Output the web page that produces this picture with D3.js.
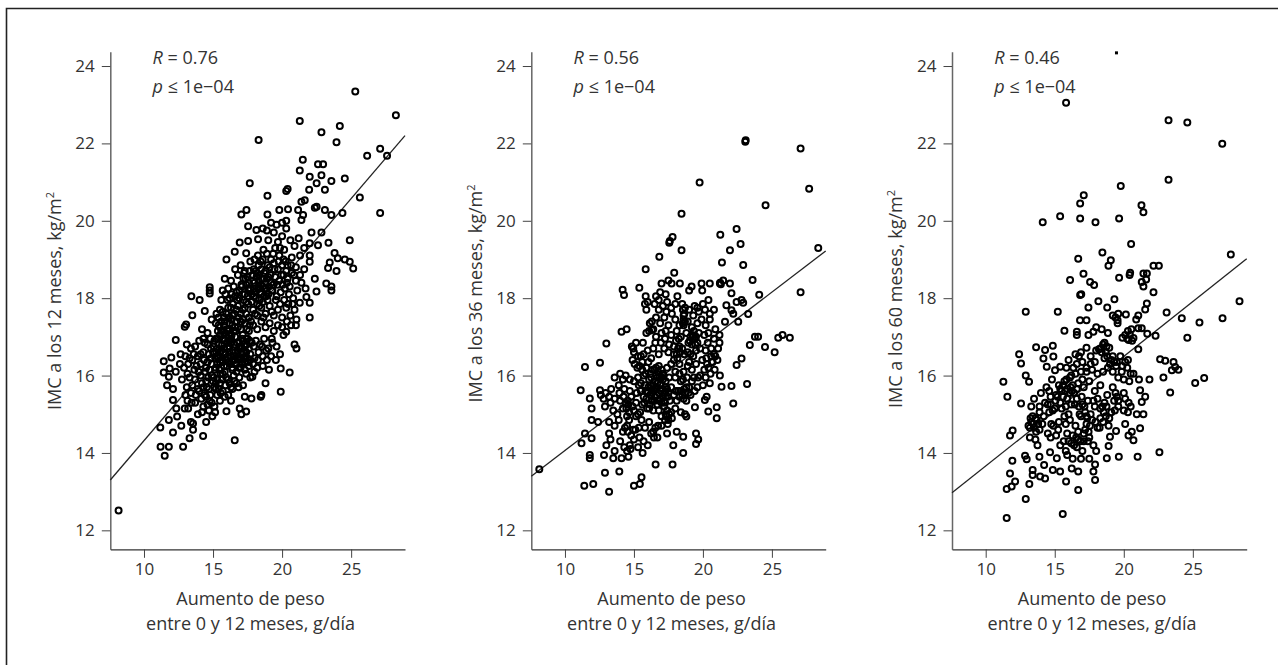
<!DOCTYPE html>
<html><head><meta charset="utf-8">
<script src="https://cdn.jsdelivr.net/npm/d3@7"></script>
<style>html,body{margin:0;padding:0;background:#fff}svg{display:block}text{font-family:"Open Sans",sans-serif;fill:#333}</style>
</head><body><svg id="c" width="1278" height="665"></svg>
<script>
const yTicks=[12,14,16,18,20,22,24];
const xTicks=[10,15,20,25];
const rLabels=["0.76","0.56","0.46"];
const yLabels=["IMC a los 12 meses, kg/m","IMC a los 36 meses, kg/m","IMC a los 60 meses, kg/m"];
const xLabel1="Aumento de peso", xLabel2="entre 0 y 12 meses, g/día";
const fit12=[[7.56,13.3],[28.9,22.2]];
const fit36=[[7.56,13.4],[28.9,19.22]];
const fit60=[[7.56,12.97],[28.9,19.02]];
const outlier60=[[19.47,24.34]];
const pts12=[[25.3,23.34],[28.24,22.73],[21.28,22.58],[18.3,22.09],[22.85,22.29],[24.18,22.45],[23.94,22.03],[26.16,21.68],[27.1,21.86],[27.6,21.68],[21.5,21.58],[21.28,21.3],[22.6,21.46],[22.97,21.46],[22,21.14],[22.85,21.18],[22.5,20.97],[23.57,21.03],[24.54,21.09],[23.1,20.8],[21.96,20.8],[17.66,20.97],[18.94,20.65],[20.3,20.77],[20.4,20.82],[25.63,20.6],[27.1,20.2],[21.64,20.53],[21.4,20.49],[22.37,20.34],[22.5,20.36],[23.1,20.28],[23.57,20.15],[24.37,20.2],[17.42,20.28],[17.05,20.16],[19.8,20.28],[20.43,20.3],[21.16,20.28],[21.52,20.15],[21.4,20.02],[18.94,20.16],[24.9,19.5],[23.36,19.43],[22.85,19.7],[22.13,19.7],[23.8,19.17],[24.03,19.03],[24.54,19],[24.9,18.94],[25.15,18.77],[23.45,18.92],[23.33,18.78],[23.94,18.7],[22.37,18.5],[23.2,18.38],[23.57,18.3],[23.57,18.2],[22.49,18.17],[22,18.94],[22,19.1],[22.6,19.37],[22,19.42],[15.97,19],[15.85,18.5],[14.76,18.2],[14.76,18.12],[16.93,19.44],[17.54,19.48],[16.57,19.2],[17.4,19.16],[18.26,19.52],[18.14,19.76],[17.54,19.86],[16.57,14.33],[14.28,14.44],[13.3,14.38],[12.83,14.16],[11.8,14.16],[11.2,14.16],[11.5,13.93],[12.1,14.53],[12.7,14.7],[11.18,14.66],[13.55,14.76],[13.55,14.6],[13.4,14.8],[14.5,14.8],[11.8,14.85],[12.4,14.94],[8.16,12.51],[15.97,15.08],[17.05,15],[17.4,15.07],[16.93,15.15],[18.5,15.5],[18.45,15.45],[19.9,15.58],[18.8,15.8],[19.9,16.18],[20.55,16.08],[17.85,15.97],[17.17,15.75],[17.78,15.41],[17.3,15.45],[21.04,16.7],[20.9,16.8],[20.3,17.13],[21.04,17.45],[22,17.5],[22,17.88],[21.28,17.88],[21.76,18.03],[13.43,18.05],[14.03,17.95],[14.4,17.67],[13.5,17.56],[12.95,17.26],[13.05,17.32],[12.3,16.92],[11.98,16.47],[11.43,16.37],[11.86,16.18],[11.43,16.08],[11.8,15.97],[11.67,15.75],[12.1,15.65],[12.1,15.37],[12.95,15.15],[12.34,15.15],[13.9,15],
[14.76,18.28],[15.6,17.95],[15.9,18.1],[15.7,18.2],[16.1,18.25],[16.5,18.3],[16.3,18.45],[16.8,18.6],[16.6,18.75],[17.0,18.85],[17.3,18.7],[17.7,18.95],[18.0,19.0],[18.3,18.85],[18.6,19.0],[18.9,19.15],[19.2,19.0],[19.5,19.3],[19.8,19.1],[20.1,19.0],[20.4,18.85],[20.7,19.05],[21.0,18.8],[21.3,19.1],[21.6,19.3],[19.0,19.5],[19.4,19.7],[19.7,19.45],[20.0,19.6],[20.3,19.8],[20.6,19.5],[20.9,19.35],[21.2,19.55],[18.6,19.8],[18.9,19.75],[19.2,19.95],[19.6,19.9],[20.0,19.95],[20.3,20.0],[16.2,18.0],[16.6,18.05],[16.9,18.0],[17.2,17.95],[17.5,18.05],[17.8,18.1],[18.1,18.0],[18.4,18.15],[18.7,18.05],[19.0,18.1],[19.3,18.2],[19.6,18.05],[19.9,18.15],[20.2,18.25],[20.5,18.1],[20.8,18.0],[21.1,18.2],[21.4,18.4],[21.7,18.25],[17.1,18.3],[17.4,18.35],[17.7,18.25],[18.0,18.4],[18.3,18.45],[18.6,18.3],[18.9,18.5],[19.2,18.4],[19.5,18.55],[19.8,18.45],[20.1,18.6],[20.4,18.5],[20.7,18.65],[21.0,18.45],[21.3,18.6],[21.6,18.75],[17.5,18.55],[17.2,18.5],[18.2,18.65],[18.5,18.75],[18.8,18.7],[19.1,18.8],[19.4,18.9],[19.7,18.75],[20.0,18.85],[20.3,18.7],[15.5,17.7],[15.8,17.5],[16.1,17.75],[16.4,17.55],[16.7,17.7],[17.0,17.6],[17.3,17.75],[17.6,17.5],[17.9,17.7],[18.2,17.55],[18.5,17.75],[18.8,17.6],[19.1,17.8],[19.4,17.55],[19.7,17.7],[20.0,17.5],[20.3,17.75],[20.6,17.55],[20.9,17.7],[14.9,17.45],[15.2,17.35],[15.5,17.25],[15.8,17.3],[16.1,17.15],[16.4,17.3],[16.7,17.4],[17.0,17.2],[17.3,17.35],[17.6,17.15],[17.9,17.3],[18.2,17.2],[18.5,17.4],[18.8,17.25],[19.1,17.35],[19.4,17.15],[19.7,17.3],[20.0,17.25],[14.2,17.2],[14.6,17.1],[14.0,16.9],[14.4,16.85],[14.8,16.95],[15.1,16.9],[15.4,16.8],[15.7,16.95],[16.0,16.85],[16.3,16.95],[16.6,17.0],[16.9,16.85],[17.2,16.9],[17.5,16.95],[17.8,16.85],[18.1,16.9],[18.4,16.8],[18.7,16.95],[19.0,16.7],[19.3,16.85],[19.6,16.75],[13.1,16.8],[13.4,16.7],[13.7,16.75],[13.0,16.5],[13.3,16.45],[13.6,16.55],[13.9,16.5],[14.3,16.6],[14.7,16.55],[15.0,16.6],[15.3,16.5],[15.6,16.65],[15.9,16.55],[16.2,16.6],[16.5,16.5],[16.8,16.65],[17.1,16.55],[17.4,16.6],[17.7,16.55],[18.0,16.45],[18.3,16.6],[18.6,16.5],[18.9,16.4],[19.2,16.5],[12.6,16.3],[12.9,16.2],[13.2,16.3],[13.5,16.4],[13.8,16.25],[14.1,16.3],[14.5,16.2],[14.9,16.3],[15.2,16.2],[15.5,16.35],[15.8,16.25],[16.1,16.35],[16.4,16.2],[16.7,16.3],[17.0,16.2],[17.3,16.35],[17.6,16.25],[17.9,16.3],[18.2,16.2],[18.6,16.25],[12.3,16.1],[13.3,15.95],[13.7,15.9],[14.1,16.0],[14.5,15.85],[14.9,16.0],[15.3,15.9],[15.7,16.05],[16.1,15.9],[16.5,16.0],[16.9,15.95],[17.4,16.05],[13.1,15.7],[13.5,15.75],[13.9,15.65],[14.3,15.7],[14.7,15.65],[15.1,15.7],[15.5,15.8],[15.9,15.75],[16.3,15.7],[16.7,15.8],[13.0,15.5],[13.4,15.55],[13.7,15.3],[14.0,15.6],[14.3,15.2],[14.5,15.45],[14.7,15.1],[14.9,15.3],[15.1,15.2],[15.3,15.5],[15.5,15.35],[15.7,15.6],[16.1,15.5],[16.4,15.65],[14.2,15.05],[14.6,15.25],[13.2,15.15],[15.2,16.95],[15.5,17.05],[15.3,16.7],[15.6,16.4],[15.9,17.1],[16.2,16.75],[16.5,17.15],[16.8,17.25],[17.0,16.45],[17.3,16.75],[15.8,16.7],[16.1,16.45],[16.4,16.15],[16.7,16.1],[15.4,17.5],[16.9,18.2],[17.3,18.1],[17.6,18.2],[18.0,18.25],[18.3,18.3],[18.5,18.1],[18.7,18.5],[17.4,17.9],[17.8,17.9],[18.2,17.85],[18.6,17.9]];
const pts12dense=[[15.05,16.75],[15.25,16.6],[15.45,16.15],[15.65,16.8],[15.85,16.1],[15.95,16.4],[16.15,16.9],[16.25,16.3],[16.35,17.05],[16.45,16.65],[16.6,16.4],[16.75,16.85],[16.85,16.2],[17.05,16.7],[17.15,17.05],[17.25,16.45],[17.45,16.8],[17.55,16.35],[15.35,17.15],[15.6,17.4],[15.75,17.15],[15.95,17.6],[16.2,17.35],[16.55,17.6],[16.85,17.5],[17.15,17.45],[17.45,17.2],[17.75,17.4],[15.15,16.15],[15.4,16.45],[14.85,16.7],[14.6,16.35],[14.4,16.1],[14.2,15.8],[14.4,15.5],[14.8,15.5],[15.0,15.85],[15.2,15.65],[14.55,15.7],[14.1,16.55],[14.3,16.95],[14.6,16.8],[16.05,17.95],[16.35,18.1],[16.7,18.15],[17.05,18.35],[17.35,18.5],[17.6,18.4],[17.85,18.6],[18.05,18.15],[18.15,18.55],[18.35,18.6],[18.45,18.35],[18.55,18.5],[18.75,18.25],[18.85,18.05],[19.05,18.3],[19.15,18.6],[19.35,18.35],[19.45,18.75],[19.65,18.35],[19.75,18.95],[19.95,18.6],[20.05,18.35],[20.25,18.95],[20.35,18.4],[20.55,18.3],[20.65,18.85],[20.85,18.6],[20.15,19.25],[19.85,19.3],[19.35,19.15],[18.65,19.25],[18.25,19.1],[17.95,18.75],[17.65,18.7],[17.15,18.1],[16.45,17.85],[16.75,17.95],[18.95,18.85],[19.25,18.2],[18.35,17.95],[17.95,18.05],[17.55,17.85],[18.05,17.6],[18.35,17.8],[18.65,17.5],[18.95,17.95],[19.25,17.65],[19.55,17.95],[19.85,17.85],[20.15,17.95],[20.45,17.85],[20.75,17.85],[21.0,17.3],[20.65,17.3],[20.35,17.4],[20.1,17.05],[19.85,16.55],[19.55,16.4],[19.05,16.15],[19.25,16.95],[18.85,16.65],[18.55,16.75],[18.25,16.4],[17.95,16.75],[17.65,16.9],[18.0,16.1],[17.7,15.95],[16.3,15.35],[15.85,15.45],[15.55,15.55],[15.15,15.05],[14.95,14.95],[14.75,15.35],[13.65,16.15],[13.15,16.05],[13.45,15.3],[13.15,15.35],[12.75,15.9],[12.65,16.55],
[15.15,16.45],[15.3,16.3],[15.35,16.95],[15.5,16.6],[15.55,16.05],[15.7,16.35],[15.75,16.6],[15.85,16.9],[16.0,16.25],[16.05,16.7],[16.15,17.05],[16.25,16.5],[16.3,16.85],[16.4,16.4],[16.55,16.8],[16.6,16.6],[16.65,17.15],[16.75,16.45],[16.9,16.4],[16.95,16.75],[17.05,16.3],[17.1,16.95],[17.2,16.6],[17.3,16.15],[17.35,16.5],[17.4,16.95],[17.5,16.45],[17.6,16.7],[17.65,17.3],[17.7,16.4],[15.25,17.6],[15.4,17.3],[15.6,17.15],[15.7,17.65],[15.85,17.4],[16.0,17.2],[16.15,17.5],[16.3,17.75],[16.35,17.45],[16.6,17.25],[16.8,17.8],[17.0,17.4],[17.15,17.7],[17.4,17.6],[15.05,15.95],[15.2,15.8],[15.4,15.65],[15.65,15.9],[15.95,15.95],[16.2,15.8],[16.55,15.85],[16.85,15.7],[14.65,15.95],[14.75,16.15],[14.35,16.4],[14.85,16.45],[13.95,16.1],[13.75,15.5],[14.15,15.4],[18.1,18.7],[18.45,18.95],[18.7,18.65],[18.25,18.25],[17.9,18.45],[18.85,18.25],[19.0,18.55],[17.25,18.65],[17.55,18.25]];
const pts36=[[23.07,22.04],[23.1,22.08],[27.08,21.87],[19.76,20.99],[27.7,20.83],[24.54,20.4],[18.45,20.18],[22.44,19.79],[21.26,19.64],[22.73,19.4],[21.96,19.24],[17.8,19.58],[17.56,19.43],[17.6,19.48],[18.45,19.24],[16.84,19.07],[28.36,19.3],[21.38,18.92],[22.92,18.86],[15.85,18.75],[17.92,18.66],[23.6,18.47],[14.18,18.22],[14.28,18.08],[15.39,18.27],[27.08,18.15],[24.08,18.09],[17,18.38],[17.5,18.46],[17.73,18.38],[18.33,18.38],[19.18,18.3],[19.9,18.38],[20.5,18.38],[21.23,18.38],[21.3,18.36],[21.47,18.46],[21.96,18.38],[16.9,18.15],[17.3,18.1],[16.6,18.05],[18.15,18.05],[19,18.2],[19.95,18.2],[20.4,17.95],[22.07,18.13],[15.85,18.05],[22.8,17.95],[22.92,17.88],[22.44,17.9],[21.7,17.82],[22.07,17.69],[22.2,17.6],[23.28,17.59],[22.56,17.39],[21.6,17.39],[23.4,16.79],[23.77,17],[24,17],[24.5,16.74],[25.2,16.6],[25.46,16.98],[25.77,17.05],[26.3,16.98],[22.8,16.44],[22.44,16.27],[23.2,15.78],[22.2,15.28],[22.07,15.73],[21.23,16],[21.35,15.71],[21,15.18],[20.39,15.07],[21,14.9],[20.14,15.37],[20.27,15.45],[19.42,15.18],[18.8,14.94],[19.5,14.5],[19.66,14.35],[19.5,14.23],[18.57,14],[17.8,13.7],[16.57,13.7],[18.1,14.55],[18.57,14.42],[17.85,14.2],[15.63,14],[15.55,13.37],[15.43,13.2],[15,13.15],[13.94,13.52],[12.9,13.49],[13.2,13],[12.05,13.2],[11.4,13.15],[11.8,13.95],[11.8,13.86],[12.83,13.95],[13.5,13.86],[14.1,13.86],[14.6,13.9],[8.14,13.58],[11.2,14.25],[11.45,14.5],[11.93,14.38],[11.93,14.85],[12.4,14.8],[11.93,15.15],[11.8,15.41],[11.14,15.62],[11.45,16.22],[12.54,16.33],[13,16.83],[14.1,17.13],[14.47,17.2],[14.95,16.7],[12.54,15.62],
[15.8,17.85],[16.0,17.9],[15.9,17.7],[16.5,17.85],[16.8,17.7],[17.1,17.8],[17.4,17.9],[17.7,17.75],[18.0,17.85],[18.5,17.85],[18.55,17.7],[18.6,17.55],[19.0,17.7],[19.4,17.8],[19.7,17.65],[20.0,17.85],[20.5,17.6],[20.8,17.7],[16.3,17.4],[16.6,17.5],[16.9,17.35],[17.2,17.5],[17.5,17.3],[18.0,17.45],[18.3,17.3],[18.9,17.4],[19.3,17.55],[19.6,17.35],[19.9,17.45],[20.2,17.3],[20.5,17.45],[20.9,17.2],[21.2,17.05],[15.9,17.1],[16.1,17.15],[16.3,17.18],[16.6,17.0],[17.0,17.1],[17.3,17.15],[17.7,17.05],[18.1,17.15],[18.4,17.0],[18.8,17.1],[19.2,17.25],[19.5,17.0],[19.7,17.1],[20.1,17.05],[20.4,17.1],[20.8,16.95],[21.2,16.85],[15.0,16.6],[15.3,16.5],[14.9,16.4],[15.4,16.25],[15.7,16.55],[16.0,16.65],[16.4,16.7],[16.8,16.55],[17.2,16.7],[17.5,16.6],[17.9,16.75],[18.1,16.55],[18.5,16.7],[18.9,16.6],[19.2,16.8],[19.5,16.65],[19.8,16.7],[20.2,16.65],[20.6,16.7],[20.9,16.5],[21.1,16.7],[14.0,16.05],[14.4,16.0],[13.6,15.95],[13.9,15.75],[14.3,15.65],[14.7,15.9],[15.0,15.85],[15.3,15.95],[15.6,16.15],[15.9,16.2],[16.2,16.05],[16.5,16.15],[16.8,16.25],[17.1,16.05],[17.4,16.2],[17.7,16.3],[18.0,16.1],[18.3,16.3],[18.6,16.1],[18.9,16.25],[19.2,16.15],[19.5,16.3],[19.8,16.0],[20.1,16.15],[20.4,16.2],[20.7,16.35],[20.5,15.8],[20.0,15.75],[19.6,15.7],[19.2,15.85],[18.8,15.7],[18.4,15.85],[18.0,15.95],[17.7,15.7],[17.3,15.85],[17.0,15.95],[16.7,15.8],[16.4,15.75],[16.1,15.9],[15.8,15.75],[15.5,15.6],[15.2,15.55],[14.8,15.45],[14.4,15.3],[14.0,15.35],[13.6,15.4],[13.2,15.45],[12.8,15.4],[12.6,15.5],[12.9,15.2],[13.3,15.3],[13.5,15.1],[13.8,15.0],[14.2,15.15],[14.6,15.25],[15.0,15.1],[15.3,15.0],[15.6,15.25],[15.9,15.4],[16.2,15.5],[16.5,15.35],[16.8,15.55],[17.1,15.45],[17.4,15.65],[17.6,15.35],[17.9,15.5],[18.2,15.6],[18.5,15.5],[18.8,15.35],[19.1,15.5],[19.4,15.6],[16.1,15.15],[16.4,15.1],[16.7,15.25],[17.0,14.95],[17.3,15.0],[17.5,14.85],[17.7,15.05],[18.0,15.15],[18.4,15.05],[18.7,15.0],[17.2,15.2],[13.2,14.8],[13.6,14.7],[13.9,14.85],[14.2,14.55],[14.5,14.7],[14.8,14.45],[15.1,14.6],[15.4,14.4],[15.8,14.65],[16.1,14.8],[16.4,14.55],[16.7,14.4],[17.0,14.7],[17.4,14.5],[13.0,14.2],[13.3,14.35],[13.6,14.05],[14.0,14.3],[14.3,14.15],[14.7,14.2],[15.0,14.35],[15.3,14.15],[15.7,14.3],[16.0,14.2],[13.2,14.5],[14.5,14.05],[16.5,15.65],[16.9,15.75],[17.2,15.55],[16.6,16.0],[16.3,15.55],[15.95,15.6],[17.0,15.3],[16.8,15.1],[15.7,16.0],[15.6,16.35],[17.9,16.4],[18.3,16.05],[19.0,16.35],[14.2,15.9],[14.7,15.6],[18.6,17.3],[18.7,17.4],[19.3,17.0],[19.4,16.95],[18.2,16.7],[18.3,16.75]];
const pts36dense=[[15.5,15.8],[15.7,15.45],[15.85,16.05],[16.05,15.7],[16.25,15.95],[16.35,15.35],[16.55,15.85],[16.65,15.5],[16.75,16.1],[16.9,15.4],[17.05,15.65],[17.15,16.0],[17.3,15.7],[17.45,15.45],[17.55,15.95],[16.15,15.25],[16.45,15.6],[16.85,15.95],[17.25,15.3],[15.35,15.75],[15.25,16.2],[15.05,16.3],[14.85,16.75],[15.15,16.85],[15.5,16.5],[15.65,16.85],[17.35,14.95],[17.55,15.0],[17.45,14.75],[17.75,14.9],[17.25,14.85],[18.05,15.6],[18.35,15.6],[18.65,15.65],[18.95,15.55],[18.15,16.45],[18.35,16.6],[18.65,16.55],[19.05,16.9],[19.25,17.05],[19.35,17.15],[19.6,16.85],[19.1,16.55],[19.95,16.4],[20.25,16.45],[20.55,16.05],[20.85,16.15],[21.05,16.4],[20.2,15.95],[19.65,15.95],[19.35,15.95],[18.85,15.95],[18.55,15.9],[17.9,16.55],[17.55,16.8],[17.25,16.95],[16.95,16.85],[16.55,16.85],[16.25,16.45],[16.05,16.35],[14.25,15.45],[14.45,15.15],[14.55,15.35],[13.95,15.55],[13.35,15.65],[12.95,15.55],[14.5,14.95],[14.65,14.85],[14.35,14.65],[14.55,14.55],[15.35,14.65],[14.75,14.1],[14.95,14.6],[15.55,14.85],[16.25,14.5],[16.55,14.65],[16.45,14.4],[16.75,14.7],[15.45,15.05],[15.15,15.3],[18.7,17.75],[18.65,17.6],[18.6,17.45],[18.55,17.35],[21.25,18.4],[17.35,17.65],[17.75,17.6],[16.8,17.95],[16.4,17.2],[16.15,17.35],[19.6,17.75],[20.15,17.7],[20.35,16.85],[20.65,16.35],[15.15,14.95],
[16.0,15.55],[16.2,15.75],[16.35,16.15],[16.5,15.45],[16.6,15.7],[16.7,15.95],[16.85,15.35],[16.95,15.6],[17.1,15.9],[17.2,15.35],[17.3,15.6],[17.4,15.1],[17.5,15.55],[15.75,15.3],[15.95,15.15],[16.25,15.35],[15.85,15.6],[16.6,16.2],[17.0,16.15],[18.1,15.35],[18.3,15.45],[18.6,15.4],[18.75,15.55],[19.0,15.7],[19.3,16.5],[19.45,16.8],[19.1,17.0],[18.95,16.85],[18.05,16.9],[18.25,16.95],[14.65,15.05],[14.9,15.2],[20.6,16.5],[20.3,16.3],[20.8,16.55]];
const pts60=[[15.82,23.05],[23.24,22.6],[24.6,22.54],[27.13,21.99],[23.24,21.06],[19.78,20.9],[17.1,20.66],[16.84,20.45],[21.28,20.4],[21.42,20.22],[15.39,20.12],[16.84,20.06],[19.66,20.06],[14.13,19.96],[17.95,19.96],[20.53,19.4],[18.45,19.18],[27.75,19.13],[16.7,19.02],[19.06,18.98],[18.89,18.84],[17.08,18.63],[16.11,18.47],[17.56,18.42],[17.85,18.34],[19.66,18.53],[20.46,18.66],[20.42,18.6],[21.42,18.64],[21.67,18.64],[22.15,18.84],[22.54,18.84],[21.3,18.42],[21.62,18.48],[21.42,18.3],[22.15,18.15],[16.84,18.08],[16.92,18.1],[18.16,17.92],[19.32,17.97],[28.38,17.92],[17.44,17.76],[18.8,17.76],[21.67,17.86],[21.55,17.71],[23.1,17.63],[24.2,17.48],[25.48,17.37],[27.15,17.48],[24.6,16.98],[12.9,17.65],[15.22,17.65],[15.7,17.16],[16.6,17.13],[16.6,17.05],[16.83,17.43],[17.3,17.43],[17.44,17.05],[17.8,17.13],[18.0,17.25],[18.4,17.2],[18.85,17.1],[19.2,17.55],[19.6,17.6],[20.15,17.58],[19.55,17.43],[21.05,17.55],[20.9,17.45],[21.05,17.22],[21.3,17.22],[20.1,17.05],[20.45,17.05],[20.7,16.97],[20.35,16.92],[19.9,16.98],[21.7,17.08],[22.3,17.03],[21.05,16.68],[22.63,16.42],[23,16.38],[23.6,16.35],[23.48,16.14],[23.72,16.22],[23.96,16.15],[22.87,15.95],[21.86,15.9],[23.36,15.56],[25.17,15.81],[25.82,15.94],[22.58,14.02],[21,13.9],[19.64,13.9],[18.77,13.86],[21.18,14.64],[20.1,14.75],[19.44,14.57],[20.94,15],[21.42,15],[21.55,15.45],[21.3,15.32],[21.18,15.62],[20.58,14.55],[20.34,14.45],[20.7,14.33],[18.9,14.18],[19,14.42],[17.92,13.3],[17.8,13.52],[17.92,13.7],[16.7,13.04],[15.58,12.42],[11.52,12.32],[12.9,12.81],[13.16,13.2],[11.52,13.07],[11.88,13.13],[12.13,13.26],[11.76,13.47],[11.93,13.8],[12.85,13.93],[12.97,13.84],[14.3,13.34],[13.94,13.39],[13.4,13.56],[13.4,13.43],[14.86,13.56],[15.39,13.52],[15.82,13.26],[16.23,13.6],[16.7,13.52],[13.89,13.9],[14.66,14.02],[15.15,13.86],[14.23,13.69],[11.76,14.45],[11.95,14.58],[12.56,15.28],[11.57,15.45],[11.28,15.84],[12.9,16.0],[13.14,15.84],[12.56,16.31],[12.42,16.55],[13.65,16.73],[14.42,16.23],[14.18,16.44],[14.9,16.49],[14.3,16.66],[14.86,16.77],[15.02,16.14],[15.4,16.23],
[16.0,16.4],[16.5,16.55],[16.9,16.6],[17.3,16.72],[17.6,16.5],[17.9,16.35],[18.2,16.68],[18.5,16.8],[18.7,16.6],[18.95,16.72],[19.2,16.5],[19.5,16.35],[19.9,16.25],[20.3,16.4],[20.7,16.05],[21.1,15.9],[20.4,15.85],[20,15.9],[19.6,15.95],[19.2,16.1],[18.85,16.2],[18.5,16.1],[18.1,16.05],[17.7,16.15],[17.3,16.2],[16.9,16.1],[16.5,16.05],[16.1,15.95],[15.7,15.85],[15.3,15.75],[14.8,15.9],[14.4,15.7],[14,15.55],[13.5,15.4],[13.9,15.2],[13.3,15.2],[14.3,15.3],[14.7,15.45],[15.1,15.5],[15.5,15.6],[15.9,15.65],[16.3,15.75],[16.7,15.8],[17.1,15.7],[17.5,15.85],[17.9,15.6],[18.3,15.75],[18.8,15.5],[19.2,15.7],[19.5,15.45],[20.1,15.4],[20.5,15.2],[20.3,15.05],[19.6,15.2],[19.1,15.05],[18.7,14.95],[18.3,15.15],[17.9,15.2],[17.4,15.35],[17.0,15.25],[16.6,15.4],[16.2,15.25],[15.8,15.2],[15.4,15.3],[15,15.15],[14.6,15.05],[14.2,14.95],[13.7,14.85],[13.3,14.8],[13.1,14.7],[13.5,14.65],[13.9,14.6],[14.5,14.5],[14.9,14.7],[15.3,14.8],[15.7,14.95],[16.1,14.85],[16.5,14.7],[16.9,14.95],[17.3,14.75],[17.7,14.85],[18.1,14.65],[18.5,14.8],[18.9,14.7],[17.1,14.5],[17.5,14.4],[16.7,14.35],[16.3,14.45],[15.9,14.5],[15.1,14.45],[14.7,14.4],[13.2,14.4],[13.6,14.35],[13.75,14.2],[15.4,14.2],[15.8,14.05],[16.2,14.25],[16.6,14.15],[17,14.05],[17.4,14.3],[17.8,14.2],[18.0,14.05],[16.3,13.85],[15.9,13.95],[16.9,13.85],[17.5,13.85],[14.5,15.25],[15.2,15.45],[16.0,15.0],[16.4,15.55],[16.8,15.0],[17.2,15.05],[17.6,15.0],[18.1,15.4],[18.6,15.3],[19.3,15.35],[20.0,15.1],[15.6,15.45],[15.85,16.2],[16.2,16.0],[16.6,16.3],[17.0,15.9],[18.0,16.65],[18.4,16.6],[18.6,16.45],[18.75,16.75],[14.6,15.6],[13.9,15.05],[13.4,14.95],[13.65,14.55],[14.1,14.75],[16.7,14.55],[17.1,14.3],[17.3,14.95],[19.1,16.4],[19.45,16.25],[19.75,16.5],[20.25,16.2],[16.15,15.7],[15.4,15.65],[17.8,15.35],[18.3,14.9],[18.55,15.05]];
const pts60dense=[[13.25,14.9],[13.45,14.75],[13.6,14.9],[13.2,14.65],[13.8,14.75],[14.7,15.25],[14.85,15.1],[15.05,15.35],[15.6,15.75],[15.75,15.6],[15.9,15.4],[16.1,15.55],[16.25,15.6],[16.45,15.25],[16.6,15.65],[16.75,15.2],[16.95,15.45],[17.15,15.2],[17.35,14.9],[17.45,14.55],[17.2,14.6],[17.55,14.7],[16.85,14.3],[16.55,14.4],[16.4,14.2],[18.3,16.7],[18.6,16.85],[18.8,16.5],[19.0,16.3],[19.3,16.35],[19.85,16.1],[20.1,16.35],[20.5,16.05],[18.45,15.2],[18.75,15.2],[18.95,14.9],[18.25,14.65],[17.95,14.8],[14.75,14.75],[15.25,14.6],[15.65,14.3],[16.0,14.3],[15.5,15.15],[15.8,14.75],[19.6,15.35],[19.4,15.55],[19.35,15.1],[20.0,15.55],[20.35,15.3],[17.3,16.1],[17.6,16.3],[17.0,16.35],[16.35,16.2],[15.85,15.9],[16.75,16.5],[20.3,17.15],[20.55,17.2],[20.25,16.95],[20.6,16.9],[19.4,17.5],[19.55,17.35]];
const panels=[
 {pts:pts12.concat(pts12dense),fit:fit12,ax:110.3,end:405,r:rLabels[0],yl:yLabels[0],lx:60.5,ly:301,xc:250.5},
 {pts:pts36.concat(pts36dense),fit:fit36,ax:531.3,end:825.7,r:rLabels[1],yl:yLabels[1],lx:481.5,ly:293.5,xc:671.5},
 {pts:pts60.concat(pts60dense),fit:fit60,ax:952,end:1246.7,r:rLabels[2],yl:yLabels[2],lx:901.5,ly:299,xc:1092,extra:outlier60}
];
const svg=d3.select("#c");
const defs=svg.append("defs");
defs.append("filter").attr("id","soft").append("feGaussianBlur").attr("stdDeviation",0.5);
svg.append("path").attr("d","M6.5,665V8.5H1278").attr("fill","none").attr("stroke","#222").attr("stroke-width",1.6);
const yS=d3.scaleLinear().domain([11.51,24.37]).range([549.3,51.7]);
panels.forEach(p=>{
 const xS=d3.scaleLinear().domain([7.56,28.9]).range([p.ax,p.end]);
 const g=svg.append("g");
 const ya=g.append("g").attr("transform",`translate(${p.ax},0)`).call(d3.axisLeft(yS).tickValues(yTicks).tickSize(8.5).tickSizeOuter(0).tickPadding(7));
 const xa=g.append("g").attr("transform","translate(0,549.3)").call(d3.axisBottom(xS).tickValues(xTicks).tickSize(8.5).tickSizeOuter(0).tickPadding(5));
 [ya,xa].forEach(a=>{a.selectAll("text").style("font-size","17px").attr("fill","#333");a.selectAll("line").attr("stroke","#444").attr("stroke-width",1);});
 ya.select(".domain").attr("stroke","#666").attr("stroke-width",1.5);
 xa.select(".domain").attr("stroke","#333").attr("stroke-width",1.2);
 const marks=g.append("g").attr("filter","url(#soft)");
 marks.append("path").attr("d",d3.line().x(d=>xS(d[0])).y(d=>yS(d[1]))(p.fit)).attr("stroke","#222").attr("stroke-width",1.3).attr("fill","none");
 marks.selectAll("circle").data(p.pts).join("circle").attr("cx",d=>xS(d[0])).attr("cy",d=>yS(d[1])).attr("r",3).attr("fill","none").attr("stroke","#000").attr("stroke-width",2);
 if(p.extra) g.selectAll("rect").data(p.extra).join("rect").attr("x",d=>xS(d[0])-1.5).attr("y",d=>yS(d[1])-1.5).attr("width",3).attr("height",3).attr("fill","#000");
 const t1=g.append("text").attr("x",p.ax+42.3).attr("y",64).style("font-size","18px");
 t1.append("tspan").attr("font-style","italic").text("R");t1.append("tspan").text(" = "+p.r);
 const t2=g.append("text").attr("x",p.ax+42.3).attr("y",93).style("font-size","18px");
 t2.append("tspan").attr("font-style","italic").text("p");t2.append("tspan").text(" ≤ 1e−04");
 const yl=g.append("text").attr("transform",`translate(${p.lx},${p.ly}) rotate(-90)`).attr("text-anchor","middle").style("font-size","18px").text(p.yl);
 yl.append("tspan").attr("dy",-7).style("font-size","11px").text("2");
 g.append("text").attr("x",p.xc).attr("y",604.5).attr("text-anchor","middle").style("font-size","18px").text(xLabel1);
 g.append("text").attr("x",p.xc).attr("y",629.5).attr("text-anchor","middle").style("font-size","18px").text(xLabel2);
});
</script></body></html>
